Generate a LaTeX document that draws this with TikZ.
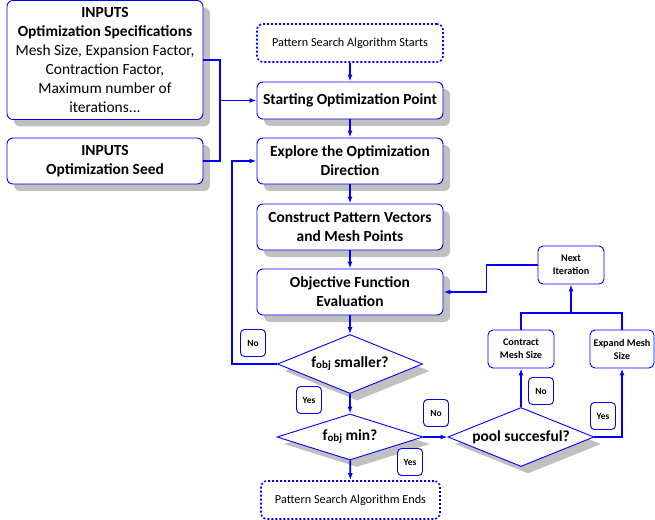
\documentclass[tikz,border=0pt]{standalone}
\usepackage{fontspec}
\setmainfont{Carlito}
\usetikzlibrary{shapes.geometric, arrows.meta, shadows}
\definecolor{flowblue}{RGB}{0, 0, 255}
\definecolor{shadegray}{RGB}{192, 192, 192}

\tikzset{
  box shadow/.style={drop shadow={shadow xshift=7bp, shadow yshift=-7bp, fill=shadegray, opacity=1}},
  procbox/.style={draw=flowblue, line width=0.9bp, fill=white, rounded corners=6bp, align=center,
    font=\fontsize{15.5}{19}\selectfont\bfseries, minimum width=186bp, inner sep=2bp, box shadow},
  termbox/.style={draw=flowblue, line width=1.6bp, dash pattern=on 2bp off 2bp, fill=white,
    rounded corners=6bp, font=\fontsize{12.3}{14}\selectfont, minimum height=38bp},
  decide/.style={diamond, draw=flowblue, line width=0.9bp, fill=white, aspect=2.5, inner sep=0pt,
    font=\fontsize{15.5}{17}\selectfont\bfseries, box shadow},
  meshbox/.style={draw=flowblue, line width=0.9bp, fill=white, rounded corners=5bp, align=center,
    font=\fontsize{10.2}{13}\selectfont\bfseries, minimum width=66bp, minimum height=38bp, inner sep=1bp},
  answer/.style={draw=flowblue, line width=0.9bp, fill=white, rounded corners=4bp,
    font=\fontsize{9.5}{10}\selectfont\bfseries, minimum width=25bp, minimum height=27bp, inner sep=1bp},
  flow/.style={draw=flowblue, line width=1.8bp},
  flowarrow/.style={flow, -{Latex[length=7bp, width=5bp]}},
}
\newcommand{\fobj}{f\raisebox{-1bp}{\fontsize{11}{11}\selectfont obj}}

\begin{document}
\begin{tikzpicture}[x=1bp, y=-1bp]
  \useasboundingbox (0, 0) rectangle (655, 520);

  % Inputs
  \node[procbox, font=\fontsize{15.5}{19}\selectfont, minimum width=196bp, minimum height=119bp] (spec) at (105, 60) {
    \textbf{INPUTS}\\
    \textbf{Optimization Specifications}\\
    Mesh Size, Expansion Factor,\\
    Contraction Factor,\\
    Maximum number of\\
    iterations...
  };
  \node[procbox, minimum width=196bp, minimum height=46bp] (seed) at (105, 161) {INPUTS\\Optimization Seed};

  % Main column
  \node[termbox, minimum width=186bp] (start) at (350, 43) {Pattern Search Algorithm Starts};
  \node[procbox, minimum height=37bp] (startpt) at (350, 100.5) {Starting Optimization Point};
  \node[procbox, minimum height=46bp] (explore) at (350, 161) {Explore the Optimization\\Direction};
  \node[procbox, minimum height=46bp] (construct) at (350, 227) {Construct Pattern Vectors\\and Mesh Points};
  \node[procbox, minimum height=46bp] (objective) at (350, 292) {Objective Function\\Evaluation};
  \node[decide, minimum width=145bp, minimum height=59bp] (smaller) at (350, 364) {\fobj{} smaller?};
  \node[decide, minimum width=146bp, minimum height=46bp] (fmin) at (350, 437) {\fobj{} min?};
  \node[termbox, minimum width=179bp] (stop) at (350.5, 500) {Pattern Search Algorithm Ends};

  % Mesh update branch
  \node[decide, minimum width=146bp, minimum height=59bp] (pool) at (521, 437) {pool succesful?};
  \node[meshbox] (contract) at (521, 349) {Contract\\Mesh Size};
  \node[meshbox, minimum width=64bp] (expand) at (622, 349) {Expand Mesh\\Size};
  \node[meshbox] (next) at (571, 265) {Next\\Iteration};

  \coordinate (join) at (220, 100.5);
  \coordinate (merge) at (571, 313);

  \draw[flow] (spec.east) -| (join) |- (seed.east);
  \draw[flowarrow] (join) -- (startpt.west);
  \draw[flowarrow] (start) -- (startpt);
  \draw[flowarrow] (startpt) -- (explore);
  \draw[flowarrow] (explore) -- (construct);
  \draw[flowarrow] (construct) -- (objective);
  \draw[flowarrow] (objective) -- (smaller);
  \draw[flowarrow] (smaller) -- (fmin);
  \draw[flowarrow] (fmin) -- (stop);
  \draw[flowarrow] (smaller.west) -- ++(-45, 0) |- (explore.west);
  \draw[flowarrow] (fmin.east) -- (pool.west);
  \draw[flowarrow] (pool.north) -- (contract.south);
  \draw[flowarrow] (pool.east) -| (expand.south);
  \draw[flow] (contract.north) |- (merge) -| (expand.north);
  \draw[flowarrow] (merge) -- (next.south);
  \draw[flowarrow] (next.west) -- ++(-51, 0) |- (objective.east);

  % Answers
  \node[answer] (no1) at (253, 343) {No};
  \node[answer] (yes1) at (309, 400) {Yes};
  \node[answer] (no2) at (436, 413) {No};
  \node[answer] (yes2) at (410, 462) {Yes};
  \node[answer] (no3) at (541, 391) {No};
  \node[answer] (yes3) at (603, 416) {Yes};
\end{tikzpicture}
\end{document}
